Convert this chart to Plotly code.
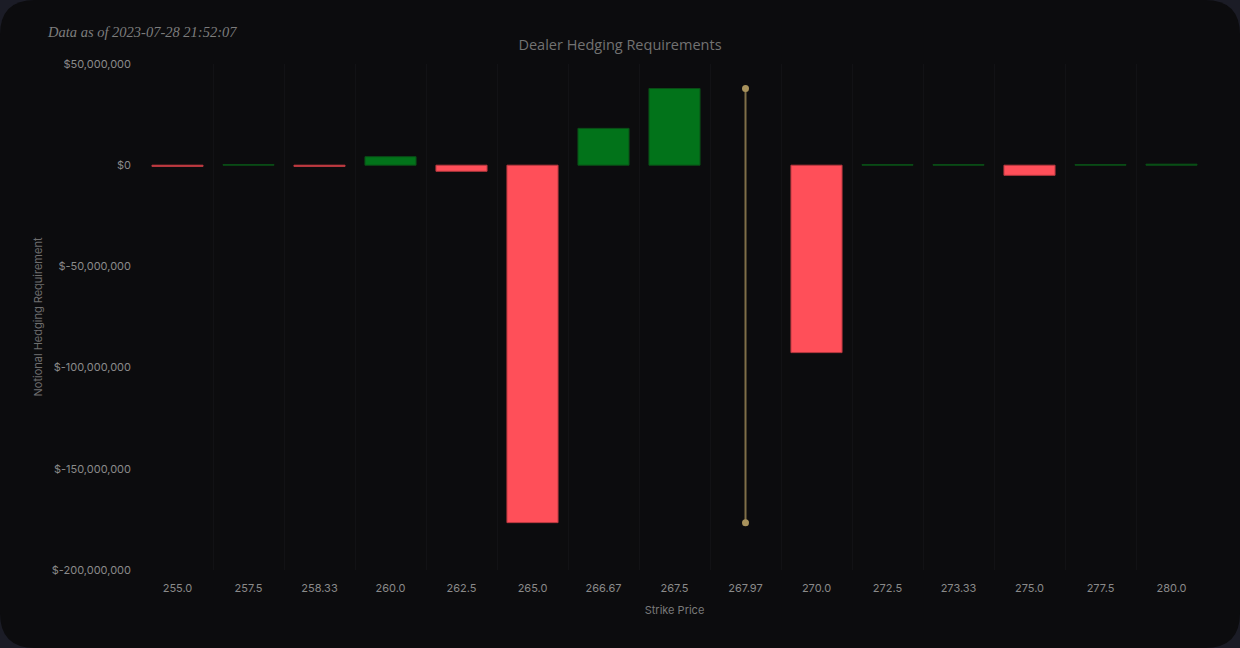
import plotly.graph_objects as go

strikes = ["255.0", "257.5", "258.33", "260.0", "262.5", "265.0", "266.67", "267.5",
           "267.97", "270.0", "272.5", "273.33", "275.0", "277.5", "280.0"]
hedging = [-0.6e6, 0.3e6, -0.6e6, 4.2e6, -3.0e6, -176.6e6, 18.2e6, 37.9e6,
           None, -92.6e6, 0.3e6, 0.3e6, -5.0e6, 0.3e6, 0.5e6]
spot_label = "267.97"
y_tick_vals = [50e6, 0, -50e6, -100e6, -150e6, -200e6]
y_tick_text = ["$50,000,000", "$0", "$-50,000,000", "$-100,000,000", "$-150,000,000", "$-200,000,000"]
title_text = "Dealer Hedging Requirements"
stamp_text = "Data as of 2023-07-28 21:52:07"

GREEN = "#02731a"
GREEN_EDGE = "#0b4d17"
RED = "#ff4f59"
RED_EDGE = "#b8383f"

vals = [v if v is not None else 0 for v in hedging]
fill = [GREEN if v >= 0 else RED for v in vals]
edge = [GREEN_EDGE if v >= 0 else RED_EDGE for v in vals]

fig = go.Figure()
fig.add_trace(go.Bar(
    x=strikes, y=hedging,
    marker=dict(color=fill, line=dict(color=edge, width=1)),
    showlegend=False,
))
present = [v for v in hedging if v is not None]
fig.add_trace(go.Scatter(
    x=[spot_label, spot_label], y=[max(present), min(present)],
    mode="lines+markers",
    line=dict(color="#7f6f48", width=2),
    marker=dict(color="#a8925c", size=7),
    showlegend=False,
))

fig.update_layout(
    width=1240, height=648,
    margin=dict(l=142, r=33, t=64, b=78),
    paper_bgcolor="#1b1c26",
    plot_bgcolor="rgba(0,0,0,0)",
    bargap=0.28,
    font=dict(family="Inter, Roboto, sans-serif", color="#8a8a8a", size=11),
    title=dict(text=title_text, x=0.5, xanchor="center", y=1 - 45 / 648, yanchor="middle",
               font=dict(family="Open Sans, sans-serif", size=14.5, color="#727272")),
    xaxis=dict(type="category", categoryorder="array", categoryarray=strikes,
               tickson="boundaries", showgrid=True, gridcolor="#121215", gridwidth=1,
               ticks="", zeroline=False, showline=False, ticklabelstandoff=10,
               title=dict(text="Strike Price", font=dict(size=11, color="#7a7a7a"), standoff=12),
               tickfont=dict(size=11, color="#8a8a8a")),
    yaxis=dict(range=[-200e6, 50e6], tickvals=y_tick_vals, ticktext=y_tick_text,
               showgrid=False, zeroline=False, showline=False, ticks="", ticklabelstandoff=10,
               title=dict(text="Notional Hedging Requirement", font=dict(size=11, color="#6e6e6e"), standoff=6),
               tickfont=dict(size=11, color="#8a8a8a")),
)

# rounded card background in paper coordinates (plot area spans x 142..1207, y 64..570 px)
pw, ph = 1240 - 142 - 33, 648 - 64 - 78
def px(x): return (x - 142) / pw
def py(y): return (570 - y) / ph
r = 35
path = (f"M {px(r)} {py(0)} L {px(1240 - r)} {py(0)} "
        f"Q {px(1240)} {py(0)} {px(1240)} {py(r)} "
        f"L {px(1240)} {py(648 - r)} Q {px(1240)} {py(648)} {px(1240 - r)} {py(648)} "
        f"L {px(r)} {py(648)} Q {px(0)} {py(648)} {px(0)} {py(648 - r)} "
        f"L {px(0)} {py(r)} Q {px(0)} {py(0)} {px(r)} {py(0)} Z")
fig.add_shape(type="path", xref="paper", yref="paper", layer="below", path=path,
              fillcolor="#0c0c0e", line=dict(width=0))

fig.add_annotation(text=stamp_text, xref="paper", yref="paper",
                   x=px(45), y=py(32), xanchor="left", yanchor="middle", showarrow=False,
                   font=dict(family="Liberation Serif, serif", size=14.5, color="#7d7d7d",
                             style="italic"))

fig.write_html("out.html")
